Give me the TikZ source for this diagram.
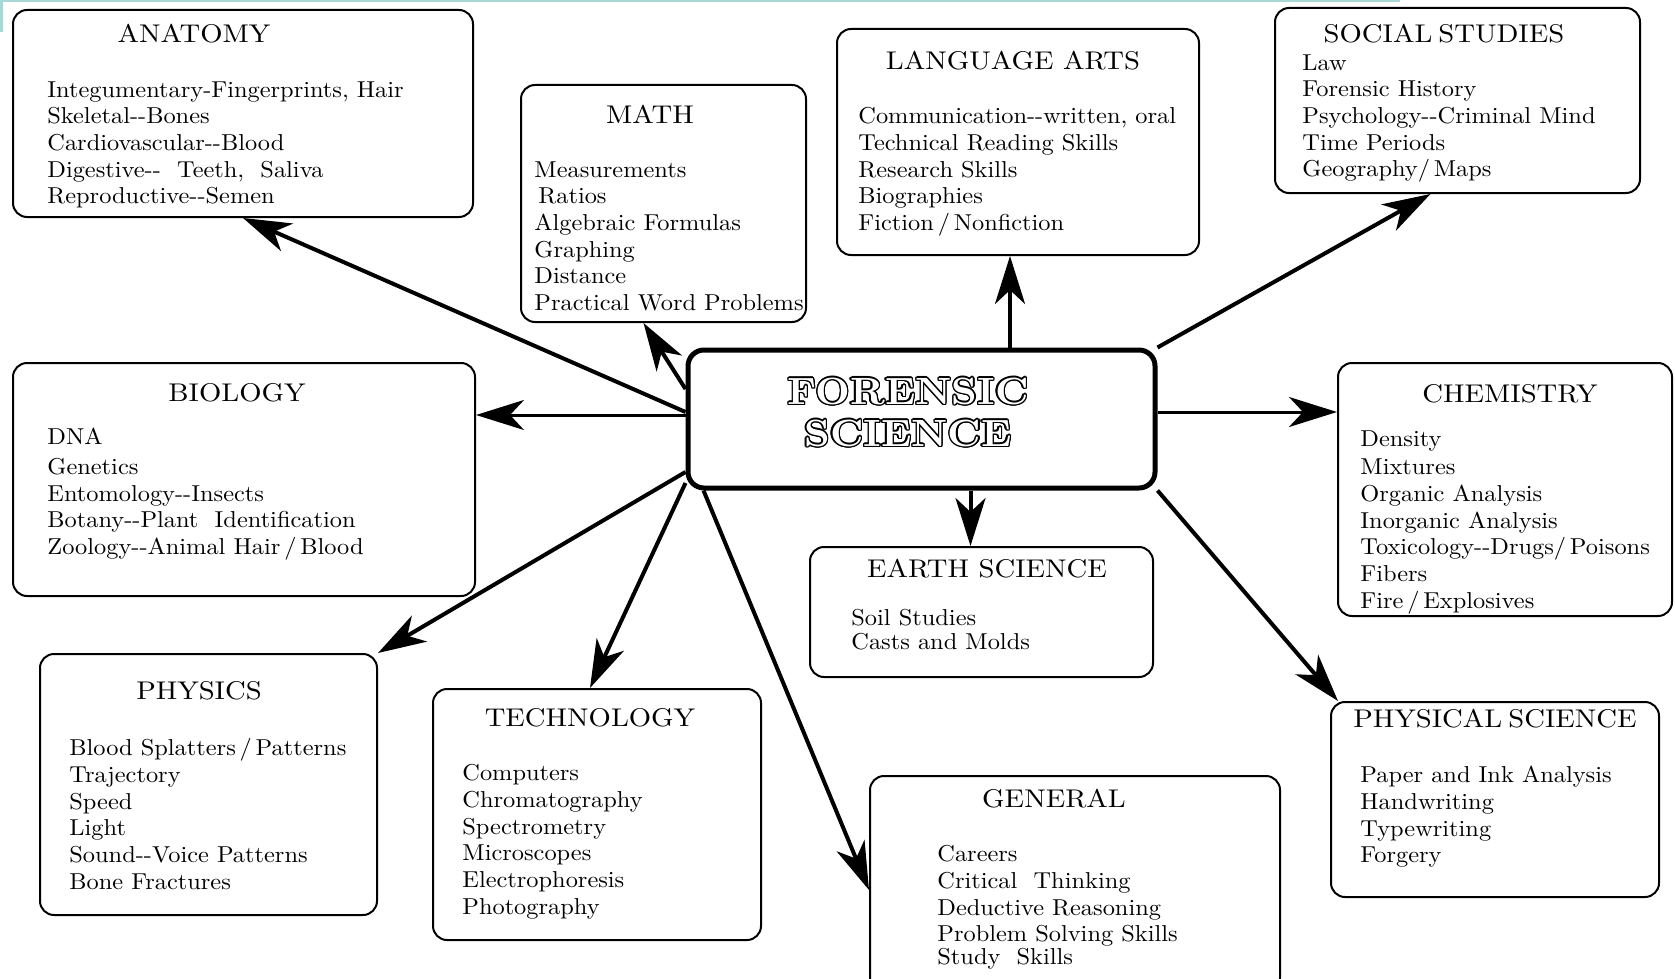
\documentclass[tikz,border=0pt]{standalone}
\usepackage{fontspec}
\setmainfont{lmroman10-regular.otf}[FakeStretch=1.06, BoldFont=lmroman10-bold.otf]
\newfontfamily\headfont{lmroman10-regular.otf}[FakeStretch=1.12]
\usepackage{contour}
\usetikzlibrary{arrows.meta,fit}
\contourlength{0.7pt}
\definecolor{scanteal}{RGB}{168,216,214}

\begin{document}
\begin{tikzpicture}[x=0.5pt,y=-0.5pt,
	box/.style={draw, rounded corners=7pt, line width=1pt, inner sep=0pt},
	hub/.style={draw, rounded corners=8pt, line width=2.5pt, inner sep=0pt},
	head/.style={font=\headfont\fontsize{12.8}{14}\selectfont},
	items/.style={anchor=north west, align=left, inner sep=0pt, font=\fontsize{11.5}{13.35}\selectfont},
	arr/.style={-{Stealth[length=24pt,width=15pt,inset=7pt]}, line width=2pt},
	thinarr/.style={arr, line width=1.5pt}]
	\useasboundingbox (0,0) rectangle (1675,979);
	\clip (0,0) rectangle (1675,979);
	% scan border
	\draw[scanteal, line width=1.5pt] (0,1) -- (1400,1);
	\draw[scanteal, line width=1.5pt] (1,0) -- (1,32);

	% centre
	\node[hub, fit={(688,350) (1155,488)}] (fs) {};
	\node (fstitle) at (908,413) [align=center, font=\bfseries\fontsize{19}{21}\selectfont]
		{{\color{white}\contour{black}{FORENSIC}}\\ {\color{white}\contour{black}{SCIENCE}}};

	% subject boxes
	\node[box, fit={(13,10) (473,217)}] (anat) {};
	\node[head] (anathead) at (194,34) {ANATOMY};
	\node[items] (anatlist) at (47,81) {Integumentary-Fingerprints, Hair\\ Skeletal-{}-Bones\\ Cardiovascular-{}-Blood\\ Digestive-{}- \ Teeth, \ Saliva\\ Reproductive-{}-Semen};

	\node[box, fit={(521,85) (806,322)}] (math) {};
	\node[head] (mathhead) at (650,114) {MATH};
	\node[items] (mathlist) at (534,161) {Measurements\\ \hspace{2pt}Ratios\\ Algebraic Formulas\\ Graphing\\ Distance\\ Practical Word Problems};

	\node[box, fit={(837,29) (1199,255)}] (lang) {};
	\node[head] (langhead) at (1013,61) {LANGUAGE ARTS};
	\node[items] (langlist) at (858,107) {Communication-{}-written, oral\\ Technical Reading Skills\\ Research Skills\\ Biographies\\ Fiction\,/\,Nonfiction};

	\node[box, fit={(1275,8) (1640,193)}] (soc) {};
	\node[head] (sochead) at (1444,34) {SOCIAL\hspace{3pt}STUDIES};
	\node[items] (soclist) at (1302,54) {Law\\ Forensic History\\ Psychology-{}-Criminal Mind\\ Time Periods\\ Geography/\,Maps};

	\node[box, fit={(13,363) (475,596)}] (bio) {};
	\node[head] (biohead) at (237,393) {BIOLOGY};
	\node[items] (biolist) at (47,428) {DNA\\[1.5pt] Genetics\\ Entomology-{}-Insects\\ Botany-{}-Plant \ Identification\\ Zoology-{}-Animal Hair\,/\,Blood};

	\node[box, fit={(1338,363) (1672,616)}] (chem) {};
	\node[head] (chemhead) at (1510,394) {CHEMISTRY};
	\node[items] (chemlist) at (1360,430) {Density\\[1pt] Mixtures\\ Organic Analysis\\ Inorganic Analysis\\ Toxicology-{}-Drugs/\,Poisons\\ Fibers\\ Fire\,/\,Explosives};

	\node[box, fit={(810,547) (1153,677)}] (earth) {};
	\node[head] (earthhead) at (987,569) {EARTH SCIENCE};
	\node[items, font=\fontsize{11.5}{11.75}\selectfont] (earthlist) at (851,609) {Soil Studies\\ Casts and Molds};

	\node[box, fit={(40,654) (377,915)}] (phys) {};
	\node[head] (physhead) at (199,691) {PHYSICS};
	\node[items] (physlist) at (69,738) {Blood Splatters\,/\,Patterns\\ Trajectory\\ Speed\\ Light\\ Sound-{}-Voice Patterns\\ Bone Fractures};

	\node[box, fit={(433,689) (761,940)}] (tech) {};
	\node[head] (techhead) at (590,718) {TECHNOLOGY};
	\node[items] (techlist) at (462,764) {Computers\\ Chromatography\\ Spectrometry\\ Microscopes\\ Electrophoresis\\ Photography};

	\node[box, fit={(870,776) (1280,992)}] (gen) {};
	\node[head] (genhead) at (1054,799) {GENERAL};
	\node[items] (genlist) at (937,845) {Careers\\ Critical \ Thinking\\ Deductive Reasoning\\ Problem Solving Skills\\[-2pt] Study \ Skills};

	\node[box, fit={(1331,702) (1659,897)}] (psci) {};
	\node[head] (pscihead) at (1495,719) {PHYSICAL\hspace{3pt}SCIENCE};
	\node[items] (pscilist) at (1360,766) {Paper and Ink Analysis\\ Handwriting\\ Typewriting\\ Forgery};

	% connectors
	\coordinate (langtip) at ([xshift=-4pt]lang.south);
	\coordinate (biostart) at ([yshift=2pt]fs.west);
	\coordinate (chemstart) at ([yshift=3.5pt]fs.east);
	\coordinate (earthtip) at ([xshift=-5.5pt]earth.north);
	\draw[arr] ([yshift=3.5pt]fs.west) -- (anat.south);
	\draw[arr] ([yshift=15pt]fs.west) -- ([xshift=-10pt]math.south);
	\draw[arr] (langtip |- fs.north) -- (langtip);
	\draw[arr] (fs.north east) -- ([xshift=-13.5pt]soc.south);
	\draw[thinarr] (biostart) -- (biostart -| bio.east);
	\draw[thinarr] (chemstart) -- (chemstart -| chem.west);
	\draw[arr] (earthtip |- fs.south) -- (earthtip);
	\draw[arr] ([yshift=-26.5pt]fs.west) -- (phys.north east);
	\draw[arr] ([yshift=-32pt]fs.west) -- ([xshift=-3.5pt]tech.north);
	\draw[arr] ([xshift=9pt]fs.south west) -- ([yshift=-3pt]gen.west);
	\draw[arr] (fs.south east) -- ([xshift=4pt]psci.north west);
\end{tikzpicture}
\end{document}
